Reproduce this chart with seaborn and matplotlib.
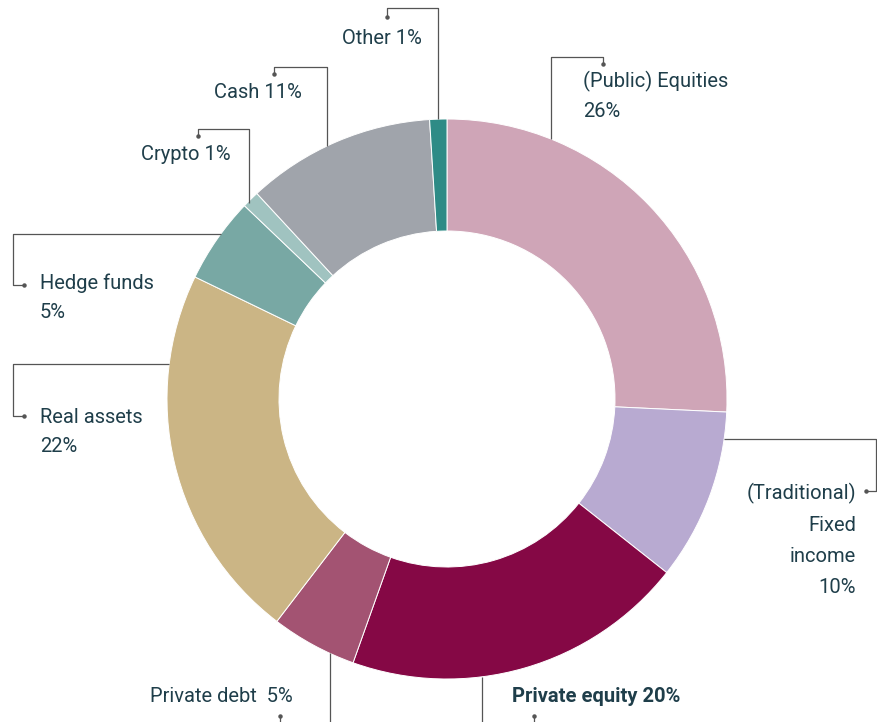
import numpy as np
import matplotlib
matplotlib.use("Agg")
import matplotlib.pyplot as plt
import seaborn as sns

# data, clockwise from 12 o'clock
categories = ["(Public) Equities", "(Traditional) Fixed income", "Private equity",
              "Private debt", "Real assets", "Hedge funds", "Crypto", "Cash", "Other"]
shares = [26, 10, 20, 5, 22, 5, 1, 11, 1]
colors = ["#cfa5b7", "#b8aad1", "#850845", "#a35372", "#cbb585",
          "#78a8a4", "#a0c3c0", "#a0a4ab", "#2e8b86"]

# label text as printed on the chart
labels = ["(Public) Equities\n26%", "(Traditional)\nFixed\nincome\n10%", "Private equity 20%",
          "Private debt  5%", "Real assets\n22%", "Hedge funds\n5%", "Crypto 1%",
          "Cash 11%", "Other 1%"]

W, H = 877, 722
CX, CY, R, RING = 447, 399, 280, 112
TEXT = "#1f3e4a"
LINE = "#555555"

sns.set_style("white")
plt.rcParams['font.family'] = ['Roboto', 'DejaVu Sans']

fig = plt.figure(figsize=(W / 100, H / 100), dpi=100)
ax = fig.add_axes([0, 0, 1, 1])


def p(x, y):
    # pixel coords (origin top-left) -> data coords
    return x, H - y


ax.pie(shares, colors=colors, startangle=90, counterclock=False,
       center=p(CX, CY), radius=R,
       wedgeprops=dict(width=RING, edgecolor="white", linewidth=0.7))
ax.set_xlim(0, W)
ax.set_ylim(0, H)
ax.set_aspect("auto")
ax.axis("off")


def edge_y(x, top=True):
    d = np.sqrt(R ** 2 - (x - CX) ** 2)
    return CY - d if top else CY + d


def edge_x(y, left=True):
    d = np.sqrt(R ** 2 - (y - CY) ** 2)
    return CX - d if left else CX + d


def leader(pts):
    xs, ys = zip(*[p(x, y) for x, y in pts])
    ax.plot(xs, ys, color=LINE, lw=0.9, solid_capstyle="butt")
    ax.plot(xs[-1], ys[-1], "o", color=LINE, ms=2.2)


# leader lines (elbows ending in a small dot)
leader([(551, edge_y(551)), (551, 57), (603, 57), (603, 64)])          # equities
leader([(438, edge_y(438)), (438, 8), (387, 8), (387, 17)])            # other
leader([(327, edge_y(327)), (327, 67), (274, 67), (274, 74)])          # cash
leader([(249, 203), (249, 129), (198, 129), (198, 136)])               # crypto
leader([(edge_x(234), 234), (13, 234), (13, 285), (24, 285)])          # hedge funds
leader([(edge_x(364), 364), (13, 364), (13, 416), (24, 416)])          # real assets
leader([(edge_x(439, False), 439), (876, 439), (876, 491), (866, 491)])  # fixed income
leader([(330, edge_y(330, False)), (330, 730), (280, 730), (280, 716)])  # private debt
leader([(482, edge_y(482, False)), (482, 730), (534, 730), (534, 716)])  # private equity

fs = 14.5
# label placement: (x, y center, ha, linespacing, bold)
label_pos = [
    (583, 96, "left", 1.72, False),
    (856, 540, "right", 1.78, False),
    (512, 697, "left", 1.2, True),
    (293, 697, "right", 1.2, False),
    (40, 432, "left", 1.68, False),
    (40, 298, "left", 1.68, False),
    (231, 154, "right", 1.2, False),
    (302, 92, "right", 1.2, False),
    (422, 38, "right", 1.2, False),
]
for lab, (x, y, ha, ls, bold) in zip(labels, label_pos):
    ax.text(*p(x, y), lab, ha=ha, va="center", fontsize=fs, color=TEXT,
            linespacing=ls, multialignment=ha,
            fontweight="bold" if bold else "normal")

plt.savefig("out.png", dpi=100)
